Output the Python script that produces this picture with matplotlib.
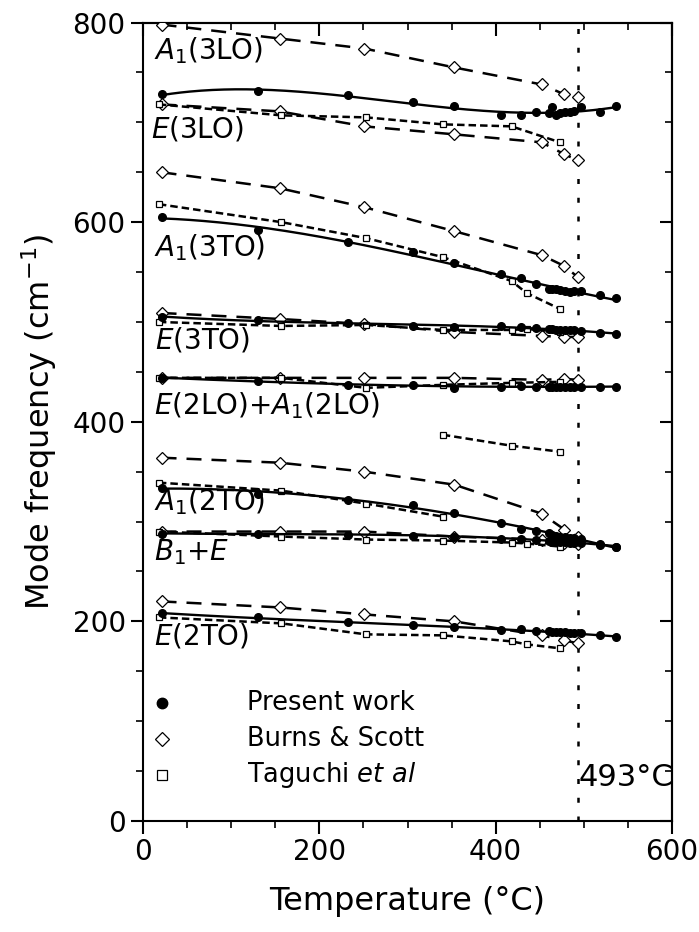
import numpy as np
import matplotlib
matplotlib.use("Agg")
import matplotlib.pyplot as plt
from matplotlib.ticker import MultipleLocator

# temperatures (deg C)
t_present = [22, 130, 232, 306, 353, 406, 429, 446, 460, 464, 468, 473, 479, 484, 489, 497, 518, 536]
t_burns = [21, 155, 251, 353, 452, 478, 493]
t_taguchi = [18, 157, 253, 340, 418, 435, 473]

nan = np.nan

# present work, one list per mode
present_a1_3lo = [728, 731, 727, 720, 716, 707, 707, 710, 709, 715, 707, 709, 710, 710, 711, 715, 710, 716]
present_a1_3to = [605, 592, 580, 570, 559, 548, 544, 538, 533, 533, 533, 532, 531, 530, 531, 531, 527, 524]
present_e_3to = [505, 502, 499, 496, 495, 496, 495, 494, 493, 493, 492, 492, 492, 492, 492, 491, 489, 488]
present_e_2lo = [444, 441, 437, 437, 434, 435, 436, 435, 435, 435, 435, 435, 435, 435, 435, 435, 435, 435]
present_a1_2to = [334, 328, 322, 317, 309, 299, 293, 291, 289, 287, 286, 285, 285, 284, 284, 283, 278, 275]
present_b1_e = [288, 288, 287, 286, 285, 283, 283, 282, 281, 281, 280, 280, 280, 279, 279, 279, 277, 275]
present_e_2to = [208, 204, 199, 196, 194, 191, 192, 190, 190, 189, 189, 189, 189, 188, 188, 188, 186, 184]

# Burns & Scott
burns_a1_3lo = [798, 784, 774, 755, 738, 728, 725]
burns_e_3lo = [718, 711, 696, 688, 680, 668, 662]
burns_a1_3to = [650, 634, 615, 591, 567, 556, 545]
burns_e_3to = [509, 503, 498, 490, 486, 485, 485]
burns_e_2lo = [444, 444, 444, 444, 442, 443, 442]
burns_a1_2to = [364, 359, 350, 337, 308, 292, 285]
burns_b1_e = [290, 290, 290, 285, 282, 279, 278]
burns_e_2to = [220, 214, 207, 200, 186, 181, 178]

# Taguchi et al
taguchi_e_3lo = [718, 707, 705, 698, 696, nan, 680]
taguchi_a1_3to = [618, 600, 584, 565, 541, 529, 513]
taguchi_e_3to = [500, 496, 497, 492, 492, 493, 490]
taguchi_e_2lo = [444, 444, 434, 437, 439, nan, 440]
taguchi_x_mode = [nan, nan, nan, 387, 376, nan, 370]
taguchi_a1_2to = [339, 331, 318, 305, nan, nan, nan]
taguchi_b1_e = [290, 285, 282, 281, 279, 278, 275]
taguchi_e_2to = [204, 198, 187, 186, 180, 177, 173]

mode_labels = [
    (r"$\mathit{A}_{\rm 1}$(3LO)", 12, 772),
    (r"$\mathit{E}$(3LO)", 9, 693),
    (r"$\mathit{A}_{\rm 1}$(3TO)", 12, 575),
    (r"$\mathit{E}$(3TO)", 14, 482),
    (r"$\mathit{E}$(2LO)+$\mathit{A}_{\rm 1}$(2LO)", 12, 416),
    (r"$\mathit{A}_{\rm 1}$(2TO)", 12, 320),
    (r"$\mathit{B}_{\rm 1}$+$\mathit{E}$", 12, 269),
    (r"$\mathit{E}$(2TO)", 12, 185),
]

T_C = 493

plt.rcParams["font.family"] = ["DejaVu Sans"]
plt.rcParams["mathtext.fontset"] = "dejavusans"

fig = plt.figure(figsize=(6.99, 9.32), dpi=100)
ax = fig.add_axes([0.2046, 0.1191, 0.7568, 0.8567])


def drop_nan(x, y):
    x = np.asarray(x, float)
    y = np.asarray(y, float)
    m = ~np.isnan(y)
    return x[m], y[m]


for ys in [burns_a1_3lo, burns_e_3lo, burns_a1_3to, burns_e_3to,
           burns_e_2lo, burns_a1_2to, burns_b1_e, burns_e_2to]:
    ax.plot(t_burns, ys, color="black", lw=1.8, dashes=(6, 4),
            marker="D", ms=6, mfc="white", mec="black", mew=0.9, zorder=3)

for ys in [taguchi_e_3lo, taguchi_a1_3to, taguchi_e_3to, taguchi_e_2lo,
           taguchi_x_mode, taguchi_a1_2to, taguchi_b1_e, taguchi_e_2to]:
    x, y = drop_nan(t_taguchi, ys)
    ax.plot(x, y, color="black", lw=1.8, dashes=(3, 1.6),
            marker="s", ms=5, mfc="white", mec="black", mew=0.9, zorder=3)

for ys in [present_a1_3lo, present_a1_3to, present_e_3to, present_e_2lo,
           present_a1_2to, present_b1_e, present_e_2to]:
    x = np.asarray(t_present, float)
    y = np.asarray(ys, float)
    coef = np.polyfit(x, y, 3)
    xf = np.linspace(x.min(), x.max(), 200)
    ax.plot(xf, np.polyval(coef, xf), color="black", lw=1.7, zorder=4)
    ax.plot(x, y, "o", color="black", ms=5.5, zorder=5)

ax.axvline(T_C, color="black", lw=1.8, ls=(0, (2, 5.5)), zorder=2)

for txt, x, y in mode_labels:
    ax.text(x, y, txt, fontsize=20, va="center", ha="left")

# legend drawn as marks + text
ax.plot([22], [118], "o", color="black", ms=7.5)
ax.plot([22], [82], "D", ms=7.5, mfc="white", mec="black", mew=0.9)
ax.plot([22], [46], "s", ms=6.5, mfc="white", mec="black", mew=0.9)
ax.text(118, 118, "Present work", fontsize=18.5, va="center")
ax.text(118, 82, "Burns & Scott", fontsize=18.5, va="center")
ax.text(118, 46, r"Taguchi $\mathit{et\ al}$", fontsize=18.5, va="center")
ax.text(494, 44, "493°C", fontsize=22, va="center", ha="left")

ax.set_xlim(0, 600)
ax.set_ylim(0, 800)
ax.xaxis.set_major_locator(MultipleLocator(200))
ax.xaxis.set_minor_locator(MultipleLocator(50))
ax.yaxis.set_major_locator(MultipleLocator(200))
ax.yaxis.set_minor_locator(MultipleLocator(50))
ax.tick_params(which="major", direction="out", length=9, width=1.5, labelsize=20)
ax.tick_params(which="minor", direction="out", length=5, width=1.2)

top = ax.secondary_xaxis("top")
top.xaxis.set_major_locator(MultipleLocator(200))
top.xaxis.set_minor_locator(MultipleLocator(50))
top.tick_params(which="major", direction="in", length=9, width=1.5, labeltop=False)
top.tick_params(which="minor", direction="in", length=5, width=1.2)
right = ax.secondary_yaxis("right")
right.yaxis.set_major_locator(MultipleLocator(200))
right.yaxis.set_minor_locator(MultipleLocator(50))
right.tick_params(which="major", direction="in", length=9, width=1.5, labelright=False)
right.tick_params(which="minor", direction="in", length=5, width=1.2)

for s in ax.spines.values():
    s.set_linewidth(1.5)
top.spines["top"].set_linewidth(1.5)
right.spines["right"].set_linewidth(1.5)

ax.set_xlabel("Temperature (°C)", fontsize=23, labelpad=14)
ax.set_ylabel(r"Mode frequency (cm$^{-1}$)", fontsize=23, labelpad=10)

fig.savefig("out.png", dpi=100)
